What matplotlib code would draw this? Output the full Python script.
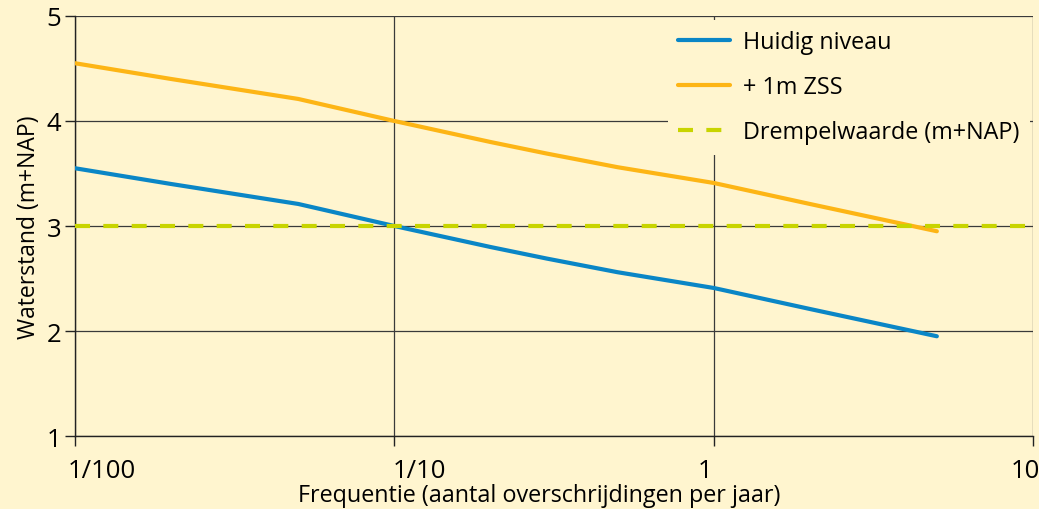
import matplotlib.pyplot as plt
import matplotlib.transforms as mtransforms
import numpy as np

plt.rcParams['font.family'] = ['Open Sans', 'DejaVu Sans']

# frequentie (per jaar) en waterstand (m+NAP)
freq = [0.01, 0.02, 0.05, 0.1, 0.2, 0.3, 0.5, 1, 2, 5]
huidig = [3.55, 3.40, 3.21, 3.0, 2.80, 2.69, 2.56, 2.41, 2.21, 1.95]
zss = [4.55, 4.40, 4.21, 4.0, 3.80, 3.69, 3.56, 3.41, 3.21, 2.95]
drempel_x = [0.01, 10]
drempel_y = [3, 3]

xticks = [0.01, 0.1, 1, 10]
xticklabels = ['1/100', '1/10', '1', '10']
yticks = [1, 2, 3, 4, 5]

bg = '#FFF5CF'
fig = plt.figure(figsize=(10.39, 5.10), dpi=100, facecolor=bg)
ax = fig.add_axes([0.0722, 0.1431, 0.922, 0.8236], facecolor=bg)

ax.plot(freq, huidig, color='#0A86C6', lw=3, solid_capstyle='round', label='Huidig niveau', zorder=3)
ax.plot(freq, zss, color='#FDB515', lw=3, solid_capstyle='round', label='+ 1m ZSS', zorder=3)
ax.plot(drempel_x, drempel_y, color='#C8D400', lw=3, dashes=(3.6, 3.2), label='Drempelwaarde (m+NAP)', zorder=4)

ax.set_xscale('log')
ax.set_xlim(0.01, 10)
ax.set_ylim(1, 5)
ax.set_xticks(xticks)
ax.set_xticklabels(xticklabels)
ax.set_yticks(yticks)
ax.minorticks_off()
ax.grid(True, color='#3a3a3a', lw=0.9)
for s in ['top', 'right']:
    ax.spines[s].set_visible(False)
for s in ['left', 'bottom']:
    ax.spines[s].set_color('#222222')
    ax.spines[s].set_linewidth(1.0)
ax.tick_params(length=7, width=1, color='#222222', labelsize=18.5, pad=3)
ax.tick_params(axis='x', pad=9)

# plaatsing van de x-labels zoals in het origineel
aligns = ['left', 'left', 'right', 'center']
offsets = [-7, -2, -1, -8]
for lab, ha, dx in zip(ax.get_xticklabels(), aligns, offsets):
    lab.set_horizontalalignment(ha)
    lab.set_transform(lab.get_transform() + mtransforms.ScaledTranslation(dx / 100, 0, fig.dpi_scale_trans))

ax.set_xlabel('Frequentie (aantal overschrijdingen per jaar)', fontsize=16.8, labelpad=0)
ax.xaxis.set_label_coords(0.485, -0.113)
ax.xaxis.label.set_verticalalignment('top')
ax.set_ylabel('Waterstand (m+NAP)', fontsize=16.5, labelpad=4)

leg = ax.legend(loc='upper right', bbox_to_anchor=(1 - 3 / 958, 1 - 4 / 420), fontsize=16.8,
                frameon=True, facecolor=bg, edgecolor='none', framealpha=1, fancybox=False,
                handlelength=2.2, handletextpad=0.57, labelspacing=0.9, borderaxespad=0,
                borderpad=0.45)
leg.set_zorder(5)

fig.savefig('out.png', dpi=100, facecolor=bg)
